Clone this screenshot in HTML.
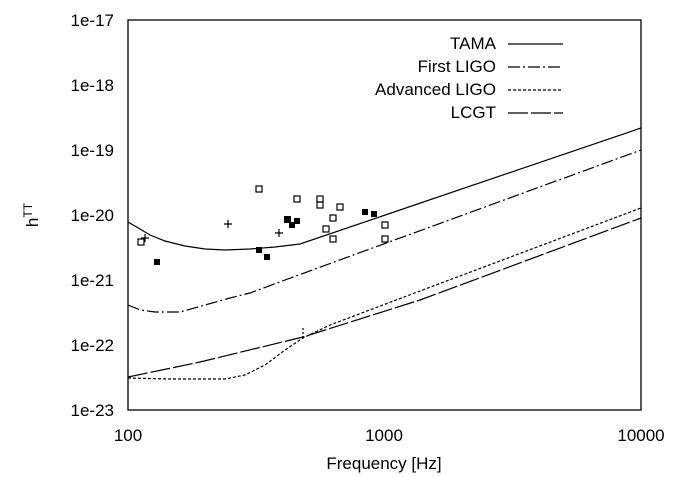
<!DOCTYPE html>
<html><head><style>body{margin:0;background:#fff}svg{display:block}text{font-family:"Liberation Sans",sans-serif;font-size:17px;fill:#000}</style></head>
<body>
<svg width="681" height="477" viewBox="0 0 681 477">
<rect x="128" y="20" width="513" height="390" fill="none" stroke="#000" stroke-width="1.3"/>
<g id="ticks" stroke="#000" stroke-width="1"></g>
<g text-anchor="end">
<text x="114" y="26">1e-17</text><text x="114" y="91">1e-18</text><text x="114" y="156">1e-19</text>
<text x="114" y="221">1e-20</text><text x="114" y="286">1e-21</text><text x="114" y="351">1e-22</text><text x="114" y="416">1e-23</text>
</g>
<g text-anchor="middle">
<text x="128" y="441">100</text><text x="384" y="441">1000</text><text x="641" y="441">10000</text>
<text x="384" y="469">Frequency [Hz]</text>
</g>
<text transform="translate(38,215) rotate(-90)" text-anchor="middle">h<tspan dy="-6" font-size="12">TT</tspan></text>
<g text-anchor="end">
<text x="496" y="49">TAMA</text><text x="496" y="72">First LIGO</text><text x="496" y="95">Advanced LIGO</text><text x="496" y="118">LCGT</text>
</g>
<g fill="none" stroke="#000" stroke-width="1.2">
<line x1="508" y1="44" x2="563" y2="44"/>
<line x1="508" y1="67" x2="563" y2="67" stroke-dasharray="12,3,2,3"/>
<line x1="508" y1="90" x2="563" y2="90" stroke-dasharray="3,2"/>
<line x1="508" y1="113" x2="563" y2="113" stroke-dasharray="20,3"/>
<polyline points="128,222 140,229 150,235 165,241 185,246 205,249 225,250 250,249 275,247 300,244 641,128"/>
<polyline stroke-dasharray="12,3,2,3" points="128,305 140,310 155,312 180,312 205,305 230,298 250,293 285,280 641,150"/>
<polyline stroke-dasharray="3,2" points="128,378 170,379 225,379 245,375 265,365 285,350 303,338 330,325 420,291 641,208"/>
<polyline stroke-dasharray="20,3" points="128,377 200,362 303,337 420,300 641,218"/>
</g>
<g fill="none" stroke="#000" stroke-width="1.2">
<rect x="138" y="239" width="6" height="6"/><rect x="256" y="186" width="6" height="6"/><rect x="294" y="196" width="6" height="6"/>
<rect x="317" y="196" width="6" height="6"/><rect x="317" y="202" width="6" height="6"/><rect x="337" y="204" width="6" height="6"/>
<rect x="330" y="215" width="6" height="6"/><rect x="323" y="226" width="6" height="6"/><rect x="330" y="236" width="6" height="6"/>
<rect x="382" y="222" width="6" height="6"/><rect x="382" y="236" width="6" height="6"/>
<path d="M141,238h8M145,234v8M224,224h8M228,220v8M275,233h8M279,229v8M303,328v2M303,332v2M303,336v2"/>
</g>
<g fill="#000">
<rect x="154" y="259" width="6" height="6"/><rect x="284" y="216" width="7" height="7"/><rect x="289" y="222" width="6" height="6"/>
<rect x="294" y="218" width="6" height="6"/><rect x="256" y="247" width="6" height="6"/><rect x="264" y="254" width="6" height="6"/>
<rect x="362" y="209" width="6" height="6"/><rect x="371" y="211" width="6" height="6"/>
</g>
<script>
var g=document.getElementById('ticks'),s='';
for(var d=0;d<6;d++)for(var k=1;k<10;k++){var y=410-65*(d+Math.log10(k));var L=k==1?9:5;
s+='<line x1="128" y1="'+y+'" x2="'+(128+L)+'" y2="'+y+'"/><line x1="641" y1="'+y+'" x2="'+(641-L)+'" y2="'+y+'"/>';}
for(var d=0;d<2;d++)for(var k=1;k<10;k++){var x=128+256.5*(d+Math.log10(k));var L=k==1?9:5;
s+='<line x1="'+x+'" y1="410" x2="'+x+'" y2="'+(410-L)+'"/><line x1="'+x+'" y1="20" x2="'+x+'" y2="'+(20+L)+'"/>';}
g.innerHTML=s;
</script>
</svg>
</body></html>
